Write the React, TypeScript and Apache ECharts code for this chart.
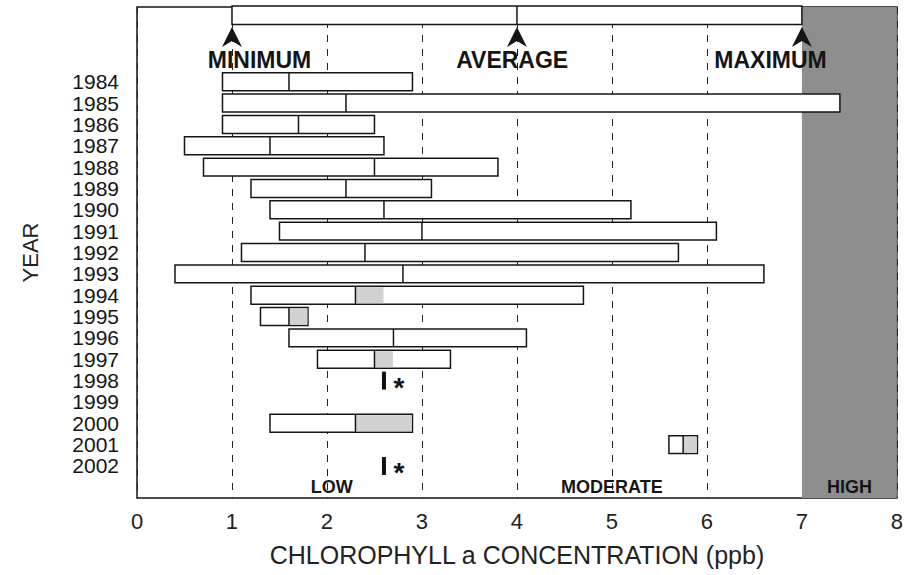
import { useEffect, useRef } from "react";
import * as echarts from "echarts";

// ---------- data ----------
const yearLabels = [
  "1984", "1985", "1986", "1987", "1988", "1989", "1990", "1991", "1992", "1993",
  "1994", "1995", "1996", "1997", "1998", "1999", "2000", "2001", "2002",
];
const minValues = [0.9, 0.9, 0.9, 0.5, 0.7, 1.2, 1.4, 1.5, 1.1, 0.4, 1.2, 1.3, 1.6, 1.9, 2.6, null, 1.4, 5.6, 2.6];
const avgValues = [1.6, 2.2, 1.7, 1.4, 2.5, 2.2, 2.6, 3.0, 2.4, 2.8, 2.3, 1.6, 2.7, 2.5, 2.6, null, 2.3, 5.75, 2.6];
const maxValues = [2.9, 7.4, 2.5, 2.6, 3.8, 3.1, 5.2, 6.1, 5.7, 6.6, 4.7, 1.8, 4.1, 3.3, 2.6, null, 2.9, 5.9, 2.6];
const shadeToValues = [null, null, null, null, null, null, null, null, null, null, 2.6, 1.8, null, 2.7, null, null, 2.9, 5.9, null];
const singleSample = [false, false, false, false, false, false, false, false, false, false, false, false, false, false, true, false, false, false, true];

const xTickLabels = ["0", "1", "2", "3", "4", "5", "6", "7", "8"];
const zoneNames = ["LOW", "MODERATE", "HIGH"];
const zoneLabelX = [2.05, 5.0, 7.5];
const highZone = [7, 8];
const legendNames = ["MINIMUM", "AVERAGE", "MAXIMUM"];
const legendMarks = [1, 4, 7];
const legendLabelX = [1.29, 3.95, 6.67];

const padTop = ["legend-box", "legend-arrow", "legend-text"];
const padBottom = ["zone-labels"];
const categories = [...padTop, ...yearLabels, ...padBottom];

const FONT = '"Liberation Sans", Arial, Helvetica, sans-serif';
const INK = "#151515";

export default function App() {
  const ref = useRef<HTMLDivElement>(null);

  useEffect(() => {
    if (!ref.current) return;
    const chart = echarts.init(ref.current, undefined, { renderer: "svg" });

    const barData: number[][] = [];
    yearLabels.forEach((_, i) => {
      if (minValues[i] == null) return;
      barData.push([minValues[i] as number, padTop.length + i, i]);
    });

    const option: any = {
      animation: false,
      backgroundColor: "#ffffff",
      grid: {
        left: 137,
        right: 6,
        top: 7,
        bottom: 77,
        show: true,
        borderColor: INK,
        borderWidth: 1.5,
        backgroundColor: "transparent",
      },
      xAxis: {
        type: "value",
        min: 0,
        max: 8,
        interval: 1,
        name: "CHLOROPHYLL a CONCENTRATION (ppb)",
        nameLocation: "middle",
        nameGap: 44,
        nameTextStyle: { fontSize: 25, color: "#222", fontFamily: FONT },
        axisLine: { show: false },
        axisTick: { show: false },
        axisLabel: {
          fontSize: 22,
          color: "#222",
          margin: 12,
          fontFamily: FONT,
          formatter: (v: number) => xTickLabels[Math.round(v)] ?? "",
        },
        splitLine: { show: true, lineStyle: { color: "#222", width: 1, type: [7, 7] } },
      },
      yAxis: {
        type: "category",
        data: categories,
        inverse: true,
        name: "YEAR",
        nameLocation: "middle",
        nameRotate: 90,
        nameGap: 96,
        nameTextStyle: { fontSize: 22, color: "#222", fontFamily: FONT },
        axisLine: { show: false },
        axisTick: { show: false },
        splitLine: { show: false },
        axisLabel: {
          interval: 0,
          fontSize: 21,
          color: INK,
          margin: 18,
          fontFamily: FONT,
          formatter: (v: string) => (yearLabels.includes(v) ? v : ""),
        },
      },
      series: [
        {
          type: "custom",
          name: "zones",
          z: 1,
          clip: false,
          silent: true,
          data: [[highZone[0], categories.length - 1]],
          renderItem: (params: any, api: any) => {
            const cs = params.coordSys;
            const x0 = api.coord([highZone[0], 0])[0];
            const x1 = api.coord([highZone[1], 0])[0];
            const zoneRow = categories.length - 1;
            const children: any[] = [
              {
                type: "rect",
                shape: { x: x0, y: cs.y, width: x1 - x0, height: cs.height },
                style: { fill: "#8e8e8e" },
              },
            ];
            zoneNames.forEach((n, i) => {
              const [x, y] = api.coord([zoneLabelX[i], zoneRow]);
              children.push({
                type: "text",
                x,
                y,
                style: {
                  text: n,
                  fontSize: 18,
                  fontWeight: "bold",
                  fontFamily: FONT,
                  fill: INK,
                  align: "center",
                  verticalAlign: "middle",
                },
              });
            });
            return { type: "group", children };
          },
        },
        {
          type: "custom",
          name: "legend",
          z: 2,
          clip: false,
          silent: true,
          data: [[legendMarks[0], 0]],
          renderItem: (params: any, api: any) => {
            const rowH = api.size([0, 1])[1];
            const [xa, y0] = api.coord([legendMarks[0], 0]);
            const xb = api.coord([legendMarks[1], 0])[0];
            const xc = api.coord([legendMarks[2], 0])[0];
            const boxTop = y0 - rowH / 2 - 1;
            const boxH = rowH * 0.87;
            const children: any[] = [
              {
                type: "rect",
                shape: { x: xa, y: boxTop, width: xc - xa, height: boxH },
                style: { fill: "#fff", stroke: INK, lineWidth: 1.5 },
              },
              {
                type: "line",
                shape: { x1: xb, y1: boxTop, x2: xb, y2: boxTop + boxH },
                style: { stroke: INK, lineWidth: 1.5 },
              },
            ];
            legendMarks.forEach((m) => {
              const [x, y] = api.coord([m, 1]);
              const tip = y - 12;
              children.push({
                type: "polygon",
                shape: {
                  points: [
                    [x, tip],
                    [x + 10, tip + 20],
                    [x, tip + 14],
                    [x - 10, tip + 20],
                  ],
                },
                style: { fill: INK },
              });
            });
            legendNames.forEach((n, i) => {
              const [x, y] = api.coord([legendLabelX[i], 2]);
              children.push({
                type: "text",
                x,
                y,
                style: {
                  text: n,
                  fontSize: 23,
                  fontWeight: "bold",
                  fontFamily: FONT,
                  fill: INK,
                  align: "center",
                  verticalAlign: "middle",
                },
              });
            });
            return { type: "group", children };
          },
        },
        {
          type: "custom",
          name: "chlorophyll",
          z: 3,
          clip: false,
          data: barData,
          renderItem: (params: any, api: any) => {
            const row = api.value(1);
            const yi = api.value(2);
            const rowH = api.size([0, 1])[1];
            const h = rowH * 0.84;
            const lo = minValues[yi] as number;
            const avg = avgValues[yi] as number;
            const hi = maxValues[yi] as number;
            const sh = shadeToValues[yi];
            const [xLo, yc] = api.coord([lo, row]);
            const xAvg = api.coord([avg, row])[0];
            const xHi = api.coord([hi, row])[0];
            const top = yc - h / 2;
            const children: any[] = [];
            if (singleSample[yi]) {
              children.push({
                type: "rect",
                shape: { x: xAvg - 2, y: top, width: 4, height: h },
                style: { fill: "#111" },
              });
              children.push({
                type: "text",
                x: xAvg + 15,
                y: yc + 7,
                style: {
                  text: "*",
                  fontSize: 28,
                  fontWeight: "bold",
                  fontFamily: FONT,
                  fill: INK,
                  align: "center",
                  verticalAlign: "middle",
                },
              });
            } else {
              children.push({
                type: "rect",
                shape: { x: xLo, y: top, width: xHi - xLo, height: h },
                style: { fill: "#fff", stroke: INK, lineWidth: 1.5 },
              });
              if (sh != null) {
                const xSh = api.coord([sh, row])[0];
                children.push({
                  type: "rect",
                  shape: { x: xAvg, y: top + 1, width: xSh - xAvg - 0.5, height: h - 2 },
                  style: { fill: "#d2d2d2" },
                });
              }
              children.push({
                type: "line",
                shape: { x1: xAvg, y1: top, x2: xAvg, y2: top + h },
                style: { stroke: INK, lineWidth: 1.5 },
              });
            }
            return { type: "group", children };
          },
        },
      ],
    };

    chart.setOption(option);
    return () => chart.dispose();
  }, []);

  return (
    <div
      ref={ref}
      style={{ position: "fixed", left: 0, top: 0, width: 906, height: 575 }}
    />
  );
}
